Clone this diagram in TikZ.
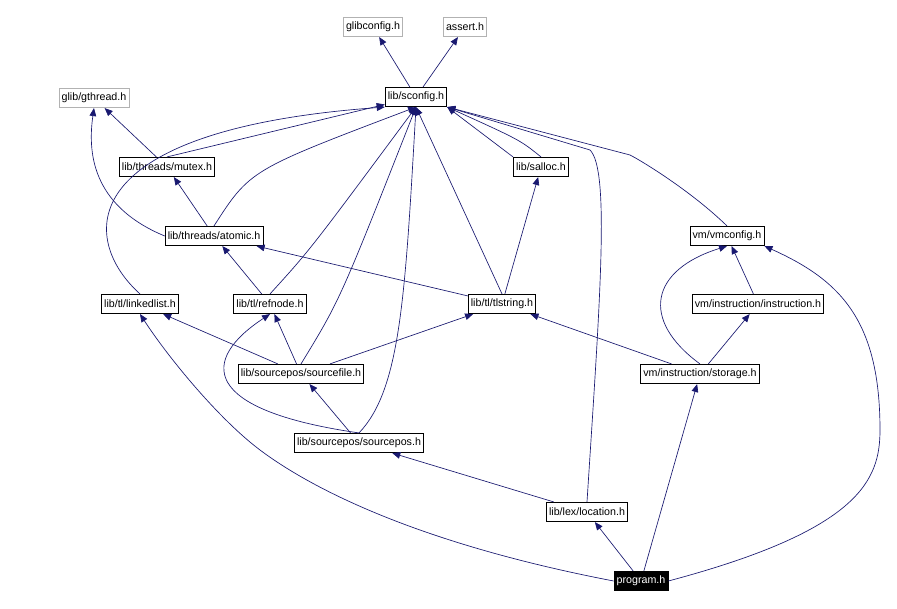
\documentclass[tikz,border=0pt]{standalone}
\usepackage{fontspec}
\setmainfont{Liberation Sans}
\usetikzlibrary{arrows.meta}
\definecolor{edge}{HTML}{191970}
\begin{document}
\begin{tikzpicture}[x=0.75pt,y=-0.75pt,
 n/.style={draw=black,line width=0.6pt,inner sep=2pt,minimum height=14.5pt,font=\fontsize{8}{9}\selectfont},
 g/.style={n,draw=gray!60},
 e/.style={draw=edge,line width=0.5pt,-{Triangle[length=6pt,width=5pt]}}]
\useasboundingbox (0,0) rectangle (897,609);
\node[g] (glibconfig) at (373,27) {glibconfig.h};
\node[g] (assert) at (465,27) {assert.h};
\node[g] (gthread) at (94,98) {glib/gthread.h};
\node[n] (sconfig) at (416,97) {lib/sconfig.h};
\node[n] (mutex) at (167,167) {lib/threads/mutex.h};
\node[n] (salloc) at (541,167) {lib/salloc.h};
\node[n] (atomic) at (214,236) {lib/threads/atomic.h};
\node[n] (vmconfig) at (727,236) {vm/vmconfig.h};
\node[n] (linkedlist) at (140,304) {lib/tl/linkedlist.h};
\node[n] (refnode) at (270,304) {lib/tl/refnode.h};
\node[n] (tlstring) at (502,304) {lib/tl/tlstring.h};
\node[n] (instruction) at (758,304) {vm/instruction/instruction.h};
\node[n] (sourcefile) at (301,374) {lib/sourcepos/sourcefile.h};
\node[n] (storage) at (700,374) {vm/instruction/storage.h};
\node[n] (sourcepos) at (359,443) {lib/sourcepos/sourcepos.h};
\node[n] (location) at (587,512) {lib/lex/location.h};
\node[n,fill=black,text=white] (program) at (641,581) {program.h};

\draw[e] (sconfig) -- (glibconfig);
\draw[e] (sconfig) -- (assert);
\draw[e] (mutex) -- (gthread);
\draw[e] (mutex.north) -- (sconfig);
\draw[e] (salloc.north west) -- (sconfig.south east);
\draw[e] (salloc.north) .. controls (520,140) .. (sconfig.south east);
\draw[e] (atomic.west) .. controls (90,205) and (88,150) .. (gthread.south);
\draw[e] (atomic) -- (mutex);
\draw[e] (atomic.north) .. controls (250,170) .. (sconfig.south);
\draw[e] (vmconfig.north) .. controls (690,190) and (640,160) .. (630,155) -- (sconfig.south east);
\draw[e] (linkedlist.north) .. controls (80,240) and (70,130) .. (sconfig.south west);
\draw[e] (refnode) -- (atomic);
\draw[e] (refnode.north) .. controls (310,250) .. (sconfig.south);
\draw[e] (tlstring) -- (atomic);
\draw[e] (tlstring) -- (salloc);
\draw[e] (tlstring.north) -- (sconfig.south);
\draw[e] (instruction) -- (vmconfig);
\draw[e] (sourcefile) -- (linkedlist);
\draw[e] (sourcefile) -- (refnode);
\draw[e] (sourcefile) -- (tlstring);
\draw[e] (sourcefile.north) .. controls (340,300) .. (sconfig.south);
\draw[e] (storage) -- (tlstring);
\draw[e] (storage) -- (instruction);
\draw[e] (storage.north) .. controls (640,320) and (650,270) .. (vmconfig.south);
\draw[e] (sourcepos) -- (sourcefile);
\draw[e] (sourcepos.north) .. controls (200,410) and (200,360) .. (refnode.south);
\draw[e] (sourcepos.north) .. controls (400,390) and (405,300) .. (sconfig.south);
\draw[e] (location) -- (sourcepos);
\draw[e] (location.north) .. controls (600,300) and (610,170) .. (590,150) -- (sconfig.south east);
\draw[e] (program) -- (location);
\draw[e] (program) -- (storage);
\draw[e] (program.west) .. controls (400,540) and (300,480) .. (260,450) .. controls (220,420) and (170,360) .. (linkedlist.south);
\draw[e] (program.east) .. controls (860,530) and (880,480) .. (880,430) .. controls (880,320) and (840,280) .. (vmconfig.south east);
\end{tikzpicture}
\end{document}
